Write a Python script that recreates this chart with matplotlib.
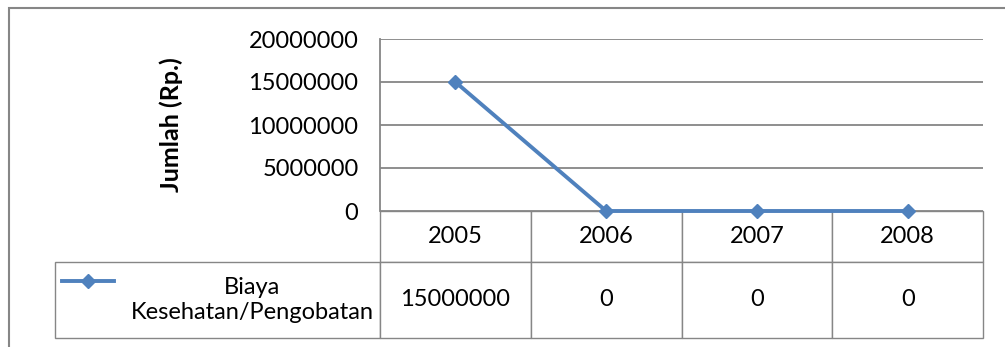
import matplotlib
matplotlib.use("Agg")
import matplotlib.pyplot as plt
from matplotlib.patches import Rectangle
from matplotlib.table import Table
from matplotlib.ticker import StrMethodFormatter

years = ["2005", "2006", "2007", "2008"]
biaya = [15000000, 0, 0, 0]
series_name = "Biaya\nKesehatan/Pengobatan"
y_ticks = [0, 5000000, 10000000, 15000000, 20000000]
y_label = "Jumlah (Rp.)"

W, H = 1005, 347
BLUE = "#4F81BD"
GRID = "#868686"
FS = 17

plt.rcParams["font.family"] = ["Lato", "DejaVu Sans"]

fig = plt.figure(figsize=(W / 100, H / 100), dpi=100)

# plot area in pixels: left, top, right, bottom
pl, pt, pr, pb = 380, 39, 983, 211
ax = fig.add_axes([pl / W, 1 - pb / H, (pr - pl) / W, (pb - pt) / H])

def ax_x(px):
    return (px - pl) / (pr - pl)

def ax_y(py):
    return (pb - py) / (pb - pt)

x = list(range(len(years)))
line, = ax.plot(x, biaya, color=BLUE, lw=2.8, marker="D", ms=7.5,
                mfc=BLUE, mec=BLUE, clip_on=False, zorder=3,
                label=series_name)

ax.set_xlim(-0.5, len(years) - 0.5)
ax.set_ylim(y_ticks[0], y_ticks[-1])
ax.set_xticks([])
ax.set_yticks(y_ticks)
ax.yaxis.set_major_formatter(StrMethodFormatter("{x:.0f}"))
ax.tick_params(axis="y", length=0, pad=15.5, labelsize=FS, colors="black")
ax.yaxis.grid(True, color=GRID, lw=1.3)
ax.set_axisbelow(True)
for side in ("top", "right", "bottom"):
    ax.spines[side].set_visible(False)
ax.spines["left"].set_color(GRID)
ax.spines["left"].set_linewidth(1.3)

ax.set_ylabel(y_label, fontsize=FS + 1, fontweight="bold", va="center")
ax.yaxis.set_label_coords(ax_x(171), 0.5)

# data table under the plot area; sizes are in axes fractions so the bbox
# fit leaves the row-label column hanging off to the left of the plot
tb_left, tb_top, tb_mid, tb_bottom = 55, 211, 262, 338
row_label_w = -ax_x(tb_left)
col_w = 1 / len(years)
head_h = ax_y(tb_top) - ax_y(tb_mid)
body_h = ax_y(tb_mid) - ax_y(tb_bottom)

tbl = Table(ax, bbox=[0, ax_y(tb_bottom), 1, ax_y(tb_top) - ax_y(tb_bottom)])
for c, yr in enumerate(years):
    tbl.add_cell(0, c, col_w, head_h, text=yr, loc="center",
                 edgecolor=GRID)
    tbl.add_cell(1, c, col_w, body_h, text=str(biaya[c]), loc="center",
                 edgecolor=GRID)
lab = tbl.add_cell(1, -1, row_label_w, body_h, text=series_name,
                   loc="right", edgecolor=GRID)
lab.PAD = 0.02
lab.get_text().set_multialignment("center")
for cell in tbl.get_celld().values():
    cell.set_linewidth(1.0)
tbl.auto_set_font_size(False)
tbl.set_fontsize(FS)
ax.add_table(tbl)

# legend key in the row-label cell
leg = ax.legend(handles=[line], labels=[""], loc="center left",
                bbox_to_anchor=(ax_x(62), ax_y(283)), frameon=False,
                fontsize=FS, handlelength=2.2, borderpad=0,
                borderaxespad=0, handletextpad=0)

# chart border
fig.patches.append(Rectangle((9 / W, -0.2), 1.2, 1.2 - 8 / H,
                             transform=fig.transFigure, fill=False,
                             edgecolor=GRID, lw=1.5))

fig.savefig("out.png", dpi=100)
